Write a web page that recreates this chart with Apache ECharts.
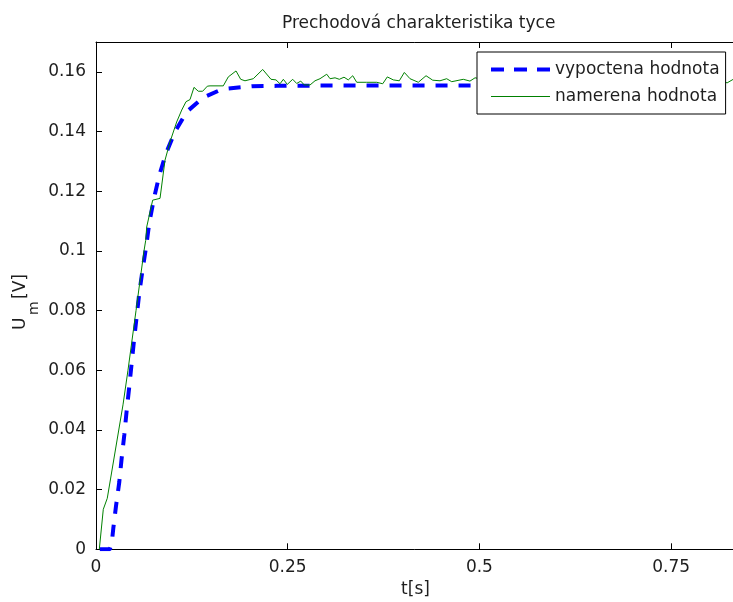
<!DOCTYPE html>
<html>
<head>
<meta charset="utf-8">
<script src="https://cdn.jsdelivr.net/npm/echarts@6/dist/echarts.min.js"></script>
<style>html,body{margin:0;padding:0;background:#fff}#c{width:733px;height:602px}</style>
</head>
<body>
<div id="c"></div>
<script>
// calculated response (vypoctena hodnota)
var calcT = [0.005,0.018,0.0205,0.0226,0.0261,0.0304,0.0335,0.0369,0.040,0.0434,0.0465,0.0496,0.0531,0.0565,0.0608,0.0655,0.0695,0.0756,0.0826,0.0913,0.103,0.1183,0.1399,0.16,0.1721,0.2031,0.2357,0.3,0.84];
var calcU = [0,0,0.002,0.0071,0.0145,0.0226,0.0306,0.0383,0.0465,0.0545,0.0624,0.0701,0.0782,0.086,0.0938,0.1016,0.1094,0.1176,0.1254,0.1327,0.1399,0.1466,0.1514,0.1537,0.1544,0.1552,0.1553,0.1554,0.1554];
// measured response (namerena hodnota)
var measT = [0.0043,0.0095,0.0147,0.0352,0.0417,0.0522,0.0626,0.0648,0.0661,0.0739,0.0835,0.090,0.0965,0.1052,0.1118,0.1174,0.1226,0.1278,0.1334,0.1391,0.1452,0.1487,0.166,0.1725,0.1826,0.1887,0.1943,0.2051,0.2174,0.2282,0.2347,0.24,0.2443,0.2495,0.2565,0.2617,0.267,0.2716,0.2791,0.2856,0.2921,0.3009,0.3052,0.3117,0.3173,0.3234,0.329,0.3348,0.34,0.353,0.3661,0.3739,0.3799,0.3877,0.3955,0.4021,0.4095,0.4203,0.4304,0.4391,0.4486,0.4573,0.4639,0.479,0.4877,0.4943,0.51,0.53,0.55,0.58,0.61,0.64,0.67,0.70,0.73,0.76,0.79,0.81,0.823,0.831,0.84];
var measU = [0,0.0134,0.0171,0.0484,0.06,0.08,0.10,0.1035,0.108,0.117,0.1176,0.1304,0.1365,0.1432,0.1472,0.15,0.1507,0.1548,0.1535,0.1535,0.1552,0.1553,0.1553,0.1583,0.1603,0.1575,0.157,0.1577,0.1608,0.1575,0.1573,0.156,0.1575,0.1558,0.1575,0.1561,0.1569,0.1556,0.1556,0.157,0.1577,0.1592,0.1577,0.158,0.1575,0.1582,0.1573,0.1587,0.1565,0.1565,0.1565,0.156,0.1583,0.1573,0.157,0.1598,0.1577,0.1565,0.1587,0.1572,0.157,0.1577,0.1567,0.1575,0.1569,0.158,0.1572,0.1578,0.1568,0.1576,0.157,0.1579,0.1566,0.1574,0.1569,0.1577,0.1571,0.1574,0.1563,0.1575,0.1572];
var xTicks = [0, 0.25, 0.5, 0.75];
var yTicks = [0, 0.02, 0.04, 0.06, 0.08, 0.1, 0.12, 0.14, 0.16];

function zip(a, b) { return a.map(function (v, i) { return [v, b[i]]; }); }

var FONT = 'DejaVu Sans';
var TXT = '#1e1e1e';
var chart = echarts.init(document.getElementById('c'), null, {renderer: 'canvas'});
var axisCommon = {
  axisLine: {show: true, lineStyle: {color: '#000', width: 1}},
  axisTick: {show: true, inside: true, length: 6, lineStyle: {color: '#000', width: 1}},
  splitLine: {show: false}
};
chart.setOption({
  animation: false,
  backgroundColor: '#fff',
  title: {
    text: 'Prechodová charakteristika tyce',
    left: 277, top: 10,
    textStyle: {fontFamily: FONT, fontSize: 17, fontWeight: 'normal', color: TXT}
  },
  grid: {left: 96, top: 42, width: 639, height: 507.3, outerBoundsMode: 'none', containLabel: false},
  legend: {
    orient: 'vertical',
    left: 477, top: 52,
    padding: [9, 6, 9, 12],
    itemWidth: 59, itemHeight: 14, itemGap: 10,
    backgroundColor: '#fff', borderColor: '#000', borderWidth: 1,
    itemStyle: {opacity: 0, color: 'rgba(0,0,0,0)', borderWidth: 0},
    textStyle: {fontFamily: FONT, fontSize: 17, color: TXT, lineHeight: 14},
    data: [
      {name: 'vypoctena hodnota', lineStyle: {color: '#0000ff', width: 4, type: [13, 10], cap: 'butt'}},
      {name: 'namerena hodnota', lineStyle: {color: '#008000', width: 1}}
    ]
  },
  graphic: [{
    type: 'group', x: 25, y: 330, rotation: Math.PI / 2, silent: true,
    children: [
      {type: 'text', x: 0, y: 4, style: {text: 'U', fontFamily: FONT, fontSize: 17, fill: TXT, align: 'left', verticalAlign: 'bottom'}},
      {type: 'text', x: 15, y: 16.5, style: {text: 'm', fontFamily: FONT, fontSize: 14, fill: TXT, align: 'left', verticalAlign: 'bottom'}},
      {type: 'text', x: 31, y: 4, style: {text: '[V]', fontFamily: FONT, fontSize: 17, fill: TXT, align: 'left', verticalAlign: 'bottom'}}
    ]
  }],
  xAxis: [
    Object.assign({}, axisCommon, {
      type: 'value', min: 0, max: 0.8333, interval: 0.25, position: 'bottom',
      name: 't[s]', nameLocation: 'middle', nameGap: 27,
      nameTextStyle: {fontFamily: FONT, fontSize: 17, color: TXT},
      axisLabel: {fontFamily: FONT, fontSize: 17, color: TXT, margin: 10, showMaxLabel: false,
        formatter: function (v) { var r = +(+v).toFixed(4); return xTicks.indexOf(r) >= 0 ? String(r) : ''; }}
    }),
    Object.assign({}, axisCommon, {
      type: 'value', min: 0, max: 0.8333, interval: 0.25, position: 'top',
      axisLabel: {show: false}
    })
  ],
  yAxis: [
    Object.assign({}, axisCommon, {
      type: 'value', min: 0, max: 0.17, interval: 0.02,
      axisLabel: {fontFamily: FONT, fontSize: 17, color: TXT, margin: 10, showMaxLabel: false,
        formatter: function (v) { var r = +(+v).toFixed(4); return yTicks.indexOf(r) >= 0 ? String(r) : ''; }}
    })
  ],
  series: [
    {
      name: 'vypoctena hodnota', type: 'line', xAxisIndex: 0, yAxisIndex: 0,
      data: zip(calcT, calcU), symbol: 'none', showSymbol: false, clip: true,
      lineStyle: {color: '#0000ff', width: 4, type: [12, 11], cap: 'butt'},
      itemStyle: {color: '#0000ff'}
    },
    {
      name: 'namerena hodnota', type: 'line', xAxisIndex: 0, yAxisIndex: 0,
      data: zip(measT, measU), symbol: 'none', showSymbol: false, clip: true,
      lineStyle: {color: '#008000', width: 1},
      itemStyle: {color: '#008000'}
    }
  ]
});
</script>
</body>
</html>
